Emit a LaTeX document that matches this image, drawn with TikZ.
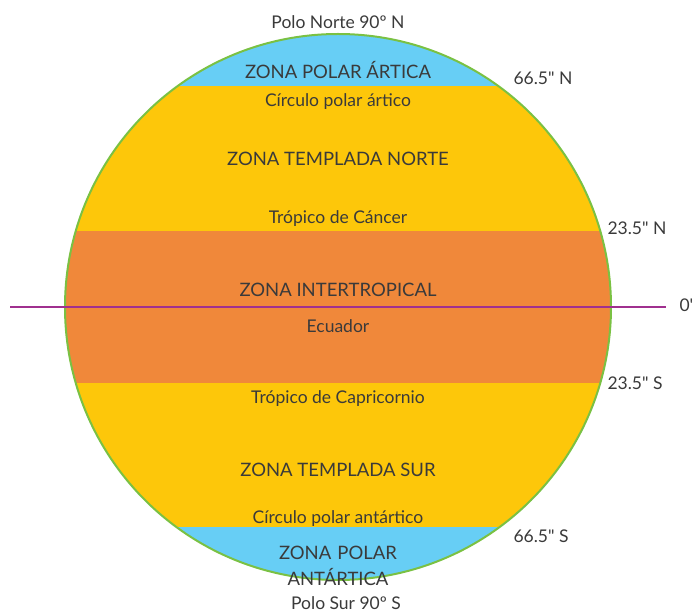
\documentclass[tikz,border=0pt]{standalone}
\usepackage{fontspec}
\defaultfontfeatures[\rmfamily]{}
\setmainfont{Lato}
\usepackage{tikz}
\usetikzlibrary{positioning}
\definecolor{polar}{HTML}{67CEF5}
\definecolor{templada}{HTML}{FDC70A}
\definecolor{tropical}{HTML}{F0883A}
\definecolor{borde}{HTML}{7AC143}
\definecolor{ecuador}{HTML}{A0308F}
\definecolor{texto}{HTML}{3A3A3A}
\begin{document}
\begin{tikzpicture}[x=1pt, y=-1pt, font=\fontsize{17.5}{20}\selectfont, text=texto,
    zona/.style={font=\fontsize{18.5}{26}\selectfont, align=center},
    lat/.style={anchor=west}]
    \useasboundingbox (0,0) rectangle (694,612);

    % 1. bandas de color dentro de la esfera
    \begin{scope}
      \clip (338,307) circle (273);
      \fill[polar] (60,30) rectangle (616,86);
      \fill[templada] (60,86) rectangle (616,231);
      \fill[tropical] (60,231) rectangle (616,383);
      \fill[templada] (60,383) rectangle (616,527);
      \fill[polar] (60,527) rectangle (616,584);
    \end{scope}
    \draw[borde, line width=2pt] (338,307) circle (273);

    % 2. ecuador
    \coordinate (eqW) at (10,307);
    \coordinate (eqE) at (666,307);
    \draw[ecuador, line width=2pt] (eqW) -- (eqE);
    \node[lat] (cero) at (676,305) {0'};

    % 3. nombres de las zonas y lineas
    \node (polon) at (338,22) {Polo Norte 90º N};
    \node[zona] (artica) at (338,70) {ZONA POLAR ÁRTICA};
    \node (circn) at (338,102) {Círculo polar ártico};
    \node[zona] (templn) at (338,159) {ZONA TEMPLADA NORTE};
    \node (cancer) at (338,219) {Trópico de Cáncer};
    \node[zona] (intert) at (338,290) {ZONA INTERTROPICAL};
    \node (ecuad) at (338,326) {Ecuador};
    \node (capric) at (338,399) {Trópico de Capricornio};
    \node[zona] (templs) at (338,470) {ZONA TEMPLADA SUR};
    \node (circs) at (338,519) {Círculo polar antártico};
    \node[zona, text width=170pt] (antart) at (338,566) {ZONA POLAR\\ANTÁRTICA};
    \node (polos) at (346,603) {Polo Sur 90º S};

    % 4. latitudes
    \foreach \y/\lab in {78/66.5" N, 228/23.5" N, 383/23.5" S, 536/66.5" S}{
      \ifnum\y<300
        \node[lat] at ({\y<100 ? 510 : 604},\y) {\lab};
      \else
        \node[lat] at ({\y<400 ? 604 : 510},\y) {\lab};
      \fi
    }

  \end{tikzpicture}
\end{document}
